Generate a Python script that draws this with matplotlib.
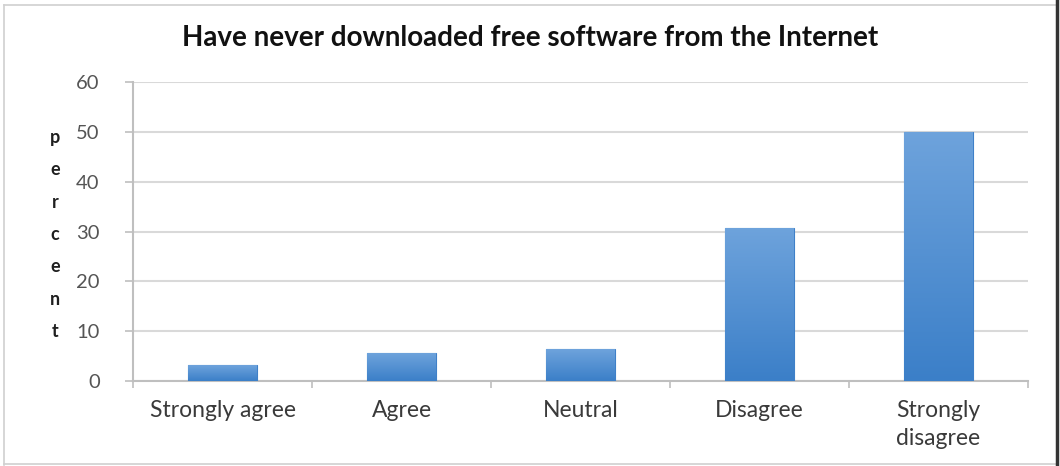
import numpy as np
import matplotlib.pyplot as plt
from matplotlib.colors import LinearSegmentedColormap
from matplotlib.lines import Line2D

# ---- data ----
categories = ["Strongly agree", "Agree", "Neutral", "Disagree", "Strongly\ndisagree"]
percent = [3.2, 5.6, 6.4, 30.8, 50.0]
y_ticks = [0, 10, 20, 30, 40, 50, 60]

title = "Have never downloaded free software from the Internet"

plt.rcParams['font.family'] = ['Lato', 'DejaVu Sans']

fig = plt.figure(figsize=(10.6, 4.66), dpi=100)
ax = fig.add_axes([0.1255, 0.1824, 0.8443, 0.6416])

x = np.arange(len(categories))
bars = ax.bar(x, percent, width=0.385, color='#4a8fd6', edgecolor='#3f80c8',
              linewidth=0.8, zorder=3)

# soft vertical gradient inside each bar, light at the top
grad_cmap = LinearSegmentedColormap.from_list('barblue', ['#3b7fc8', '#6ea3dc'])
grad = np.linspace(0, 1, 256).reshape(-1, 1)
for b in bars:
    x0, y0 = b.get_x(), b.get_y()
    im = ax.imshow(grad, extent=[x0, x0 + b.get_width(), y0, y0 + b.get_height()],
                   origin='lower', aspect='auto', cmap=grad_cmap, zorder=3.5)
    im.set_clip_path(b)

ax.set_xlim(-0.5, len(categories) - 0.5)
ax.set_ylim(0, 60)
ax.set_yticks(y_ticks)
ax.yaxis.grid(True, color='#d9d9d9', linewidth=1.5, zorder=0)
ax.set_axisbelow(True)

# category labels centred, ticks on the category boundaries
ax.set_xticks(x)
ax.set_xticklabels(categories, fontsize=16.5, color='#3a3a3a', linespacing=1.38)
ax.tick_params(axis='x', length=0, pad=14)
ax.set_xticks(np.arange(-0.5, len(categories)), minor=True)
ax.tick_params(axis='x', which='minor', length=5, color='#bfbfbf', width=1.2)
ax.tick_params(axis='y', labelsize=14.5, labelcolor='#555555', length=6,
               color='#bfbfbf', width=1.2, pad=18)

for side in ['top', 'right']:
    ax.spines[side].set_visible(False)
for side in ['left', 'bottom']:
    ax.spines[side].set_color('#bfbfbf')
    ax.spines[side].set_linewidth(1.5)

# vertical letter-by-letter axis label
ax.set_ylabel("\n".join("percent"), rotation=0, fontsize=13, fontweight='bold',
              color='#1f1f1f', linespacing=2.1, va='center', ha='center')
ax.yaxis.set_label_coords(-0.087, 0.49)

fig.suptitle(title, x=0.5, y=0.918, fontsize=20, fontweight='bold',
             color='#111111', va='center')

# outer chart frame
fig.add_artist(Line2D([0.004, 0.004], [0.002, 0.99], color='#d0d0d0', lw=1.2,
                      transform=fig.transFigure))
fig.add_artist(Line2D([0.004, 0.997], [0.99, 0.99], color='#d0d0d0', lw=1.2,
                      transform=fig.transFigure))
fig.add_artist(Line2D([0.004, 0.997], [0.004, 0.004], color='#d0d0d0', lw=1.2,
                      transform=fig.transFigure))
fig.add_artist(Line2D([0.997, 0.997], [0.0, 1.0], color='#333333', lw=2.5,
                      transform=fig.transFigure))

fig.savefig('out.png', dpi=100)
